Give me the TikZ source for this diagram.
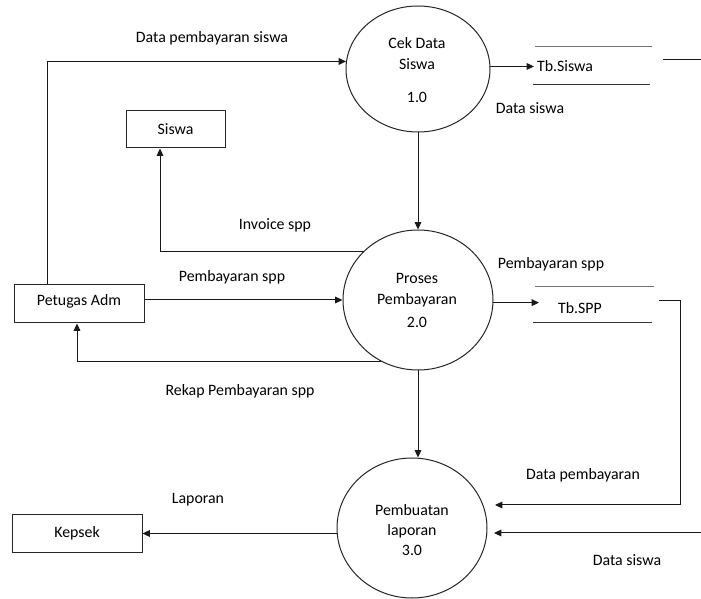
\documentclass[tikz,border=0pt]{standalone}
\usepackage{fontspec}
\setmainfont{Carlito}
\usetikzlibrary{shapes.geometric,arrows.meta}
\begin{document}
\begin{tikzpicture}[x=0.75pt,y=-0.75pt,
  every node/.style={font=\fontsize{11.9pt}{14pt}\selectfont, inner sep=0pt},
  proc/.style={draw=black!85, ellipse, line width=0.75pt},
  ent/.style={draw=black!85, rectangle, line width=0.75pt},
  flow/.style={draw=black!90, line width=0.75pt},
  arr/.style={flow, -{Triangle[length=5.5pt,width=5pt]}},
  store/.style={line width=0.75pt},
  lbl/.style={anchor=center}]
\useasboundingbox (0,0) rectangle (701,599);

% processes
\node[proc, minimum width=144*0.75pt, minimum height=126*0.75pt] (c1) at (418,69) {};
\node[proc, minimum width=150*0.75pt, minimum height=140*0.75pt] (c2) at (418,300) {};
\node[proc, minimum width=150*0.75pt, minimum height=140*0.75pt] (c3) at (412,528) {};

\node[lbl] (c1a) at (417,43) {Cek Data};
\node[lbl] (c1b) at (417,64) {Siswa};
\node[lbl] (c1c) at (417,97) {1.0};
\node[lbl] (c2a) at (417,278) {Proses};
\node[lbl] (c2b) at (417,300) {Pembayaran};
\node[lbl] (c2c) at (417,322) {2.0};
\node[lbl] (c3a) at (412,510) {Pembuatan};
\node[lbl] (c3b) at (412,531) {laporan};
\node[lbl] (c3c) at (412,550) {3.0};

% entities
\node[ent, minimum width=99*0.75pt, minimum height=37*0.75pt] (siswa) at (175.5,129.5) {Siswa};
\node[ent, minimum width=130*0.75pt, minimum height=38*0.75pt] (pet) at (79,304) {};
\node[lbl] (pett) at (79,301) {Petugas Adm};
\node[ent, minimum width=130*0.75pt, minimum height=37*0.75pt] (kep) at (77,533.5) {Kepsek};

% data stores
\draw[store, draw=black!55] (535,47) -- (652,47);
\draw[store, draw=black!80] (533,85) -- (650,85);
\node[lbl] (ts) at (565,66) {Tb.Siswa};
\draw[store, draw=black!55] (535,287) -- (654,287);
\draw[store, draw=black!80] (533,323) -- (652,323);
\node[lbl] (tspp) at (580,308) {Tb.SPP};

% coordinates
\coordinate (tsin) at (534,0);
\coordinate (tsout) at (663,60);
\coordinate (tsR) at (701,60);
\coordinate (sppin) at (539,0);
\coordinate (sppout) at (659,301);
\coordinate (bend) at (680,301);
\coordinate (c3in1) at (495,505);
\coordinate (dsR) at (701,533);
\coordinate (c3in2) at (494,533);

% flows
\draw[arr] ([xshift=-32*0.75pt]pet.north) |- (c1.174);
\draw[arr] (c1.2) -- (c1.2 -| tsin);
\draw[flow] (tsout) -- (tsR);
\draw[arr] (c1.south) -- (c2.north);
\draw[arr] (c2.138) -| ([xshift=-15.5*0.75pt]siswa.south);
\draw[arr] (c2.west -| pet.east) -- (c2.west);
\draw[arr] (c2.239) -| ([xshift=-2*0.75pt]pet.south);
\draw[arr] (c2.358) -- (c2.358 -| sppin);
\draw[arr] (c2.south) -- (c2.south |- c3.north);
\draw[arr] (sppout) -- (bend) |- (c3in1);
\draw[arr] (dsR) -- (c3in2);
\draw[arr] (kep.east -| c3.west) -- (kep.east);

% flow labels
\node[lbl] (l1) at (212,38) {Data pembayaran siswa};
\node[lbl] (l2) at (530,108) {Data siswa};
\node[lbl] (l3) at (275,225) {Invoice spp};
\node[lbl] (l4) at (232,277) {Pembayaran spp};
\node[lbl] (l5) at (551,264) {Pembayaran spp};
\node[lbl] (l6) at (240,391) {Rekap Pembayaran spp};
\node[lbl] (l7) at (583,475) {Data pembayaran};
\node[lbl] (l8) at (198,500) {Laporan};
\node[lbl] (l9) at (627,560) {Data siswa};
\end{tikzpicture}
\end{document}
